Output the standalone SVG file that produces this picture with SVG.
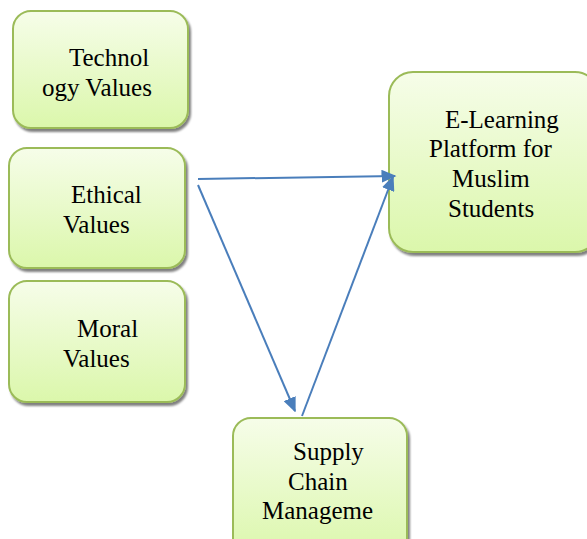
<svg xmlns="http://www.w3.org/2000/svg" width="587" height="539" viewBox="0 0 587 539">
  <defs>
    <linearGradient id="boxFill" x1="0" y1="0" x2="0" y2="1">
      <stop offset="0" stop-color="#f6fde9"/>
      <stop offset="1" stop-color="#dbf7ab"/>
    </linearGradient>
    <filter id="shadow" x="-10%" y="-10%" width="130%" height="130%">
      <feGaussianBlur in="SourceAlpha" stdDeviation="1.2"/>
      <feOffset dx="2" dy="3" result="off"/>
      <feComponentTransfer><feFuncA type="linear" slope="0.5"/></feComponentTransfer>
      <feMerge><feMergeNode/><feMergeNode in="SourceGraphic"/></feMerge>
    </filter>
    <marker id="arrow" viewBox="0 0 10 10" refX="9" refY="5" markerWidth="15" markerHeight="13" markerUnits="userSpaceOnUse" orient="auto" preserveAspectRatio="none">
      <path d="M0,0 L10,5 L0,10 z" fill="#4a7ebb"/>
    </marker>
  </defs>
  <style>
    .box { fill: url(#boxFill); stroke: #9bbb59; stroke-width: 2; filter: url(#shadow); }
    .lbl { font-family: "Liberation Serif", "Times New Roman", serif; font-size: 25px; fill: #000; }
    .conn { stroke: #4a7ebb; stroke-width: 2; fill: none; }
  </style>
  <rect width="587" height="539" fill="#ffffff"/>

  <g id="technology">
    <rect class="box" x="13" y="11" width="175" height="117" rx="18"/>
    <text class="lbl" x="69" y="66">Technol</text>
    <text class="lbl" x="42" y="96">ogy Values</text>
  </g>

  <g id="ethical">
    <rect class="box" x="9" y="148" width="176" height="120" rx="18"/>
    <text class="lbl" x="71" y="203">Ethical</text>
    <text class="lbl" x="63" y="233">Values</text>
  </g>

  <g id="moral">
    <rect class="box" x="9" y="281" width="176" height="121" rx="18"/>
    <text class="lbl" x="77" y="337">Moral</text>
    <text class="lbl" x="63" y="367">Values</text>
  </g>

  <g id="elearning">
    <rect class="box" x="389" y="72" width="210" height="180" rx="24"/>
    <text class="lbl" x="445" y="128">E-Learning</text>
    <text class="lbl" x="429" y="157">Platform for</text>
    <text class="lbl" x="452" y="187">Muslim</text>
    <text class="lbl" x="448" y="217">Students</text>
  </g>

  <g id="supply">
    <rect class="box" x="233" y="418" width="174" height="140" rx="18"/>
    <text class="lbl" x="293" y="460">Supply</text>
    <text class="lbl" x="288" y="490">Chain</text>
    <text class="lbl" x="262" y="519">Manageme</text>
  </g>

  <g id="connectors">
    <line class="conn" x1="198" y1="179" x2="395" y2="176" marker-end="url(#arrow)"/>
    <line class="conn" x1="198" y1="185" x2="295" y2="411" marker-end="url(#arrow)"/>
    <line class="conn" x1="302" y1="416" x2="393" y2="177" marker-end="url(#arrow)"/>
  </g>
</svg>
